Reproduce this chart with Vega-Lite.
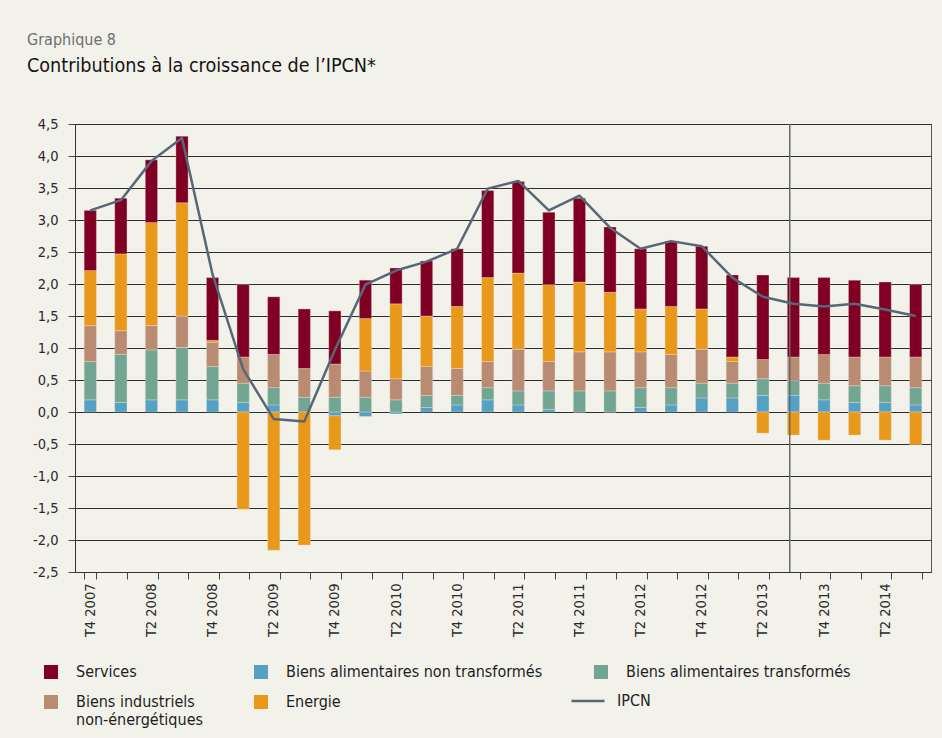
{
  "$schema": "https://vega.github.io/schema/vega-lite/v6.json",
  "width": 856,
  "height": 448,
  "autosize": {"type": "none"},
  "padding": {"left": 75, "top": 124, "right": 11, "bottom": 166},
  "background": "#f2f1ea",
  "title": {
    "text": "Graphique 8",
    "subtitle": "Contributions à la croissance de l’IPCN*",
    "anchor": "start",
    "frame": "group",
    "dx": -48,
    "offset": 40,
    "font": "DejaVu Sans Condensed",
    "fontSize": 16,
    "fontWeight": "normal",
    "color": "#6e7071",
    "subtitleFont": "DejaVu Sans Condensed",
    "subtitleFontSize": 19.6,
    "subtitleColor": "#151515",
    "subtitlePadding": 9
  },
  "datasets": {
    "contributions": [
      {"trimestre": "T4 2007", "serie": "Biens alimentaires non transformés", "valeur": 0.19},
      {"trimestre": "T4 2007", "serie": "Biens alimentaires transformés", "valeur": 0.60},
      {"trimestre": "T4 2007", "serie": "Biens industriels non-énergétiques", "valeur": 0.56},
      {"trimestre": "T4 2007", "serie": "Energie", "valeur": 0.86},
      {"trimestre": "T4 2007", "serie": "Services", "valeur": 0.94},
      {"trimestre": "T1 2008", "serie": "Biens alimentaires non transformés", "valeur": 0.15},
      {"trimestre": "T1 2008", "serie": "Biens alimentaires transformés", "valeur": 0.75},
      {"trimestre": "T1 2008", "serie": "Biens industriels non-énergétiques", "valeur": 0.37},
      {"trimestre": "T1 2008", "serie": "Energie", "valeur": 1.20},
      {"trimestre": "T1 2008", "serie": "Services", "valeur": 0.87},
      {"trimestre": "T2 2008", "serie": "Biens alimentaires non transformés", "valeur": 0.19},
      {"trimestre": "T2 2008", "serie": "Biens alimentaires transformés", "valeur": 0.78},
      {"trimestre": "T2 2008", "serie": "Biens industriels non-énergétiques", "valeur": 0.38},
      {"trimestre": "T2 2008", "serie": "Energie", "valeur": 1.61},
      {"trimestre": "T2 2008", "serie": "Services", "valeur": 0.98},
      {"trimestre": "T3 2008", "serie": "Biens alimentaires non transformés", "valeur": 0.19},
      {"trimestre": "T3 2008", "serie": "Biens alimentaires transformés", "valeur": 0.82},
      {"trimestre": "T3 2008", "serie": "Biens industriels non-énergétiques", "valeur": 0.49},
      {"trimestre": "T3 2008", "serie": "Energie", "valeur": 1.77},
      {"trimestre": "T3 2008", "serie": "Services", "valeur": 1.04},
      {"trimestre": "T4 2008", "serie": "Biens alimentaires non transformés", "valeur": 0.19},
      {"trimestre": "T4 2008", "serie": "Biens alimentaires transformés", "valeur": 0.52},
      {"trimestre": "T4 2008", "serie": "Biens industriels non-énergétiques", "valeur": 0.38},
      {"trimestre": "T4 2008", "serie": "Energie", "valeur": 0.03},
      {"trimestre": "T4 2008", "serie": "Services", "valeur": 0.98},
      {"trimestre": "T1 2009", "serie": "Biens alimentaires non transformés", "valeur": 0.15},
      {"trimestre": "T1 2009", "serie": "Biens alimentaires transformés", "valeur": 0.30},
      {"trimestre": "T1 2009", "serie": "Biens industriels non-énergétiques", "valeur": 0.41},
      {"trimestre": "T1 2009", "serie": "Energie", "valeur": -1.52},
      {"trimestre": "T1 2009", "serie": "Services", "valeur": 1.13},
      {"trimestre": "T2 2009", "serie": "Biens alimentaires non transformés", "valeur": 0.11},
      {"trimestre": "T2 2009", "serie": "Biens alimentaires transformés", "valeur": 0.27},
      {"trimestre": "T2 2009", "serie": "Biens industriels non-énergétiques", "valeur": 0.52},
      {"trimestre": "T2 2009", "serie": "Energie", "valeur": -2.16},
      {"trimestre": "T2 2009", "serie": "Services", "valeur": 0.90},
      {"trimestre": "T3 2009", "serie": "Biens alimentaires non transformés", "valeur": 0.0},
      {"trimestre": "T3 2009", "serie": "Biens alimentaires transformés", "valeur": 0.23},
      {"trimestre": "T3 2009", "serie": "Biens industriels non-énergétiques", "valeur": 0.45},
      {"trimestre": "T3 2009", "serie": "Energie", "valeur": -2.08},
      {"trimestre": "T3 2009", "serie": "Services", "valeur": 0.93},
      {"trimestre": "T4 2009", "serie": "Biens alimentaires non transformés", "valeur": -0.06},
      {"trimestre": "T4 2009", "serie": "Biens alimentaires transformés", "valeur": 0.23},
      {"trimestre": "T4 2009", "serie": "Biens industriels non-énergétiques", "valeur": 0.52},
      {"trimestre": "T4 2009", "serie": "Energie", "valeur": -0.53},
      {"trimestre": "T4 2009", "serie": "Services", "valeur": 0.83},
      {"trimestre": "T1 2010", "serie": "Biens alimentaires non transformés", "valeur": -0.07},
      {"trimestre": "T1 2010", "serie": "Biens alimentaires transformés", "valeur": 0.23},
      {"trimestre": "T1 2010", "serie": "Biens industriels non-énergétiques", "valeur": 0.41},
      {"trimestre": "T1 2010", "serie": "Energie", "valeur": 0.82},
      {"trimestre": "T1 2010", "serie": "Services", "valeur": 0.60},
      {"trimestre": "T2 2010", "serie": "Biens alimentaires non transformés", "valeur": -0.03},
      {"trimestre": "T2 2010", "serie": "Biens alimentaires transformés", "valeur": 0.19},
      {"trimestre": "T2 2010", "serie": "Biens industriels non-énergétiques", "valeur": 0.33},
      {"trimestre": "T2 2010", "serie": "Energie", "valeur": 1.17},
      {"trimestre": "T2 2010", "serie": "Services", "valeur": 0.56},
      {"trimestre": "T3 2010", "serie": "Biens alimentaires non transformés", "valeur": 0.07},
      {"trimestre": "T3 2010", "serie": "Biens alimentaires transformés", "valeur": 0.19},
      {"trimestre": "T3 2010", "serie": "Biens industriels non-énergétiques", "valeur": 0.45},
      {"trimestre": "T3 2010", "serie": "Energie", "valeur": 0.79},
      {"trimestre": "T3 2010", "serie": "Services", "valeur": 0.86},
      {"trimestre": "T4 2010", "serie": "Biens alimentaires non transformés", "valeur": 0.11},
      {"trimestre": "T4 2010", "serie": "Biens alimentaires transformés", "valeur": 0.15},
      {"trimestre": "T4 2010", "serie": "Biens industriels non-énergétiques", "valeur": 0.42},
      {"trimestre": "T4 2010", "serie": "Energie", "valeur": 0.97},
      {"trimestre": "T4 2010", "serie": "Services", "valeur": 0.90},
      {"trimestre": "T1 2011", "serie": "Biens alimentaires non transformés", "valeur": 0.19},
      {"trimestre": "T1 2011", "serie": "Biens alimentaires transformés", "valeur": 0.19},
      {"trimestre": "T1 2011", "serie": "Biens industriels non-énergétiques", "valeur": 0.41},
      {"trimestre": "T1 2011", "serie": "Energie", "valeur": 1.31},
      {"trimestre": "T1 2011", "serie": "Services", "valeur": 1.36},
      {"trimestre": "T2 2011", "serie": "Biens alimentaires non transformés", "valeur": 0.11},
      {"trimestre": "T2 2011", "serie": "Biens alimentaires transformés", "valeur": 0.22},
      {"trimestre": "T2 2011", "serie": "Biens industriels non-énergétiques", "valeur": 0.65},
      {"trimestre": "T2 2011", "serie": "Energie", "valeur": 1.19},
      {"trimestre": "T2 2011", "serie": "Services", "valeur": 1.43},
      {"trimestre": "T3 2011", "serie": "Biens alimentaires non transformés", "valeur": 0.04},
      {"trimestre": "T3 2011", "serie": "Biens alimentaires transformés", "valeur": 0.29},
      {"trimestre": "T3 2011", "serie": "Biens industriels non-énergétiques", "valeur": 0.46},
      {"trimestre": "T3 2011", "serie": "Energie", "valeur": 1.20},
      {"trimestre": "T3 2011", "serie": "Services", "valeur": 1.13},
      {"trimestre": "T4 2011", "serie": "Biens alimentaires non transformés", "valeur": 0.0},
      {"trimestre": "T4 2011", "serie": "Biens alimentaires transformés", "valeur": 0.33},
      {"trimestre": "T4 2011", "serie": "Biens industriels non-énergétiques", "valeur": 0.61},
      {"trimestre": "T4 2011", "serie": "Energie", "valeur": 1.09},
      {"trimestre": "T4 2011", "serie": "Services", "valeur": 1.31},
      {"trimestre": "T1 2012", "serie": "Biens alimentaires non transformés", "valeur": 0.0},
      {"trimestre": "T1 2012", "serie": "Biens alimentaires transformés", "valeur": 0.33},
      {"trimestre": "T1 2012", "serie": "Biens industriels non-énergétiques", "valeur": 0.61},
      {"trimestre": "T1 2012", "serie": "Energie", "valeur": 0.93},
      {"trimestre": "T1 2012", "serie": "Services", "valeur": 1.02},
      {"trimestre": "T2 2012", "serie": "Biens alimentaires non transformés", "valeur": 0.07},
      {"trimestre": "T2 2012", "serie": "Biens alimentaires transformés", "valeur": 0.31},
      {"trimestre": "T2 2012", "serie": "Biens industriels non-énergétiques", "valeur": 0.56},
      {"trimestre": "T2 2012", "serie": "Energie", "valeur": 0.67},
      {"trimestre": "T2 2012", "serie": "Services", "valeur": 0.94},
      {"trimestre": "T3 2012", "serie": "Biens alimentaires non transformés", "valeur": 0.11},
      {"trimestre": "T3 2012", "serie": "Biens alimentaires transformés", "valeur": 0.27},
      {"trimestre": "T3 2012", "serie": "Biens industriels non-énergétiques", "valeur": 0.52},
      {"trimestre": "T3 2012", "serie": "Energie", "valeur": 0.75},
      {"trimestre": "T3 2012", "serie": "Services", "valeur": 1.02},
      {"trimestre": "T4 2012", "serie": "Biens alimentaires non transformés", "valeur": 0.22},
      {"trimestre": "T4 2012", "serie": "Biens alimentaires transformés", "valeur": 0.23},
      {"trimestre": "T4 2012", "serie": "Biens industriels non-énergétiques", "valeur": 0.53},
      {"trimestre": "T4 2012", "serie": "Energie", "valeur": 0.63},
      {"trimestre": "T4 2012", "serie": "Services", "valeur": 0.98},
      {"trimestre": "T1 2013", "serie": "Biens alimentaires non transformés", "valeur": 0.22},
      {"trimestre": "T1 2013", "serie": "Biens alimentaires transformés", "valeur": 0.23},
      {"trimestre": "T1 2013", "serie": "Biens industriels non-énergétiques", "valeur": 0.34},
      {"trimestre": "T1 2013", "serie": "Energie", "valeur": 0.07},
      {"trimestre": "T1 2013", "serie": "Services", "valeur": 1.28},
      {"trimestre": "T2 2013", "serie": "Biens alimentaires non transformés", "valeur": 0.26},
      {"trimestre": "T2 2013", "serie": "Biens alimentaires transformés", "valeur": 0.26},
      {"trimestre": "T2 2013", "serie": "Biens industriels non-énergétiques", "valeur": 0.30},
      {"trimestre": "T2 2013", "serie": "Energie", "valeur": -0.33},
      {"trimestre": "T2 2013", "serie": "Services", "valeur": 1.32},
      {"trimestre": "T3 2013", "serie": "Biens alimentaires non transformés", "valeur": 0.26},
      {"trimestre": "T3 2013", "serie": "Biens alimentaires transformés", "valeur": 0.23},
      {"trimestre": "T3 2013", "serie": "Biens industriels non-énergétiques", "valeur": 0.37},
      {"trimestre": "T3 2013", "serie": "Energie", "valeur": -0.36},
      {"trimestre": "T3 2013", "serie": "Services", "valeur": 1.24},
      {"trimestre": "T4 2013", "serie": "Biens alimentaires non transformés", "valeur": 0.19},
      {"trimestre": "T4 2013", "serie": "Biens alimentaires transformés", "valeur": 0.26},
      {"trimestre": "T4 2013", "serie": "Biens industriels non-énergétiques", "valeur": 0.45},
      {"trimestre": "T4 2013", "serie": "Energie", "valeur": -0.44},
      {"trimestre": "T4 2013", "serie": "Services", "valeur": 1.20},
      {"trimestre": "T1 2014", "serie": "Biens alimentaires non transformés", "valeur": 0.15},
      {"trimestre": "T1 2014", "serie": "Biens alimentaires transformés", "valeur": 0.26},
      {"trimestre": "T1 2014", "serie": "Biens industriels non-énergétiques", "valeur": 0.45},
      {"trimestre": "T1 2014", "serie": "Energie", "valeur": -0.36},
      {"trimestre": "T1 2014", "serie": "Services", "valeur": 1.20},
      {"trimestre": "T2 2014", "serie": "Biens alimentaires non transformés", "valeur": 0.15},
      {"trimestre": "T2 2014", "serie": "Biens alimentaires transformés", "valeur": 0.26},
      {"trimestre": "T2 2014", "serie": "Biens industriels non-énergétiques", "valeur": 0.45},
      {"trimestre": "T2 2014", "serie": "Energie", "valeur": -0.44},
      {"trimestre": "T2 2014", "serie": "Services", "valeur": 1.17},
      {"trimestre": "T3 2014", "serie": "Biens alimentaires non transformés", "valeur": 0.11},
      {"trimestre": "T3 2014", "serie": "Biens alimentaires transformés", "valeur": 0.27},
      {"trimestre": "T3 2014", "serie": "Biens industriels non-énergétiques", "valeur": 0.48},
      {"trimestre": "T3 2014", "serie": "Energie", "valeur": -0.51},
      {"trimestre": "T3 2014", "serie": "Services", "valeur": 1.13}
    ],
    "ipcn": [
      {"trimestre": "T4 2007", "valeur": 3.15},
      {"trimestre": "T1 2008", "valeur": 3.31},
      {"trimestre": "T2 2008", "valeur": 3.92},
      {"trimestre": "T3 2008", "valeur": 4.28},
      {"trimestre": "T4 2008", "valeur": 2.15},
      {"trimestre": "T1 2009", "valeur": 0.67},
      {"trimestre": "T2 2009", "valeur": -0.11},
      {"trimestre": "T3 2009", "valeur": -0.15},
      {"trimestre": "T4 2009", "valeur": 0.97},
      {"trimestre": "T1 2010", "valeur": 1.99},
      {"trimestre": "T2 2010", "valeur": 2.21},
      {"trimestre": "T3 2010", "valeur": 2.35},
      {"trimestre": "T4 2010", "valeur": 2.55},
      {"trimestre": "T1 2011", "valeur": 3.49},
      {"trimestre": "T2 2011", "valeur": 3.61},
      {"trimestre": "T3 2011", "valeur": 3.15},
      {"trimestre": "T4 2011", "valeur": 3.38},
      {"trimestre": "T1 2012", "valeur": 2.88},
      {"trimestre": "T2 2012", "valeur": 2.55},
      {"trimestre": "T3 2012", "valeur": 2.67},
      {"trimestre": "T4 2012", "valeur": 2.59},
      {"trimestre": "T1 2013", "valeur": 2.10},
      {"trimestre": "T2 2013", "valeur": 1.80},
      {"trimestre": "T3 2013", "valeur": 1.69},
      {"trimestre": "T4 2013", "valeur": 1.65},
      {"trimestre": "T1 2014", "valeur": 1.69},
      {"trimestre": "T2 2014", "valeur": 1.60},
      {"trimestre": "T3 2014", "valeur": 1.50}
    ],
    "separation": [{"trimestre": "T3 2013"}]
  },
  "encoding": {
    "x": {
      "field": "trimestre",
      "type": "ordinal",
      "sort": null,
      "scale": {"paddingInner": 0.6, "paddingOuter": 0.3},
      "axis": {
        "title": null,
        "labelAngle": -90,
        "tickBand": "extent",
        "tickSize": 7,
        "tickColor": "#444",
        "domainColor": "#333",
        "labelPadding": 4,
        "labelFontSize": 14.5,
        "labelExpr": "test(/^T[24]/, datum.value) ? datum.value : ''"
      }
    },
    "y": {
      "field": "valeur",
      "type": "quantitative",
      "scale": {"domain": [-2.5, 4.5], "nice": false, "zero": false},
      "axis": {
        "title": null,
        "values": [-2.5, -2, -1.5, -1, -0.5, 0, 0.5, 1, 1.5, 2, 2.5, 3, 3.5, 4, 4.5],
        "labelOverlap": false,
        "labelExpr": "replace(replace(format(datum.value, '.1f'), '.', ','), '\u2212', '-')",
        "grid": true,
        "gridColor": "#2d2d2d",
        "gridWidth": 1,
        "tickSize": 7,
        "tickColor": "#444",
        "domainColor": "#333",
        "labelPadding": 10,
        "labelFontSize": 14.5
      }
    }
  },
  "layer": [
    {
      "data": {"name": "contributions"},
      "transform": [
        {"calculate": "indexof(['Biens alimentaires non transformés','Biens alimentaires transformés','Biens industriels non-énergétiques','Energie','Services'], datum.serie)", "as": "rang"}
      ],
      "mark": {"type": "bar", "stroke": "#f2e6dc", "strokeWidth": 0.4, "strokeOpacity": 0.8},
      "encoding": {
        "y": {"field": "valeur", "type": "quantitative", "stack": "zero"},
        "color": {
          "field": "serie",
          "type": "nominal",
          "scale": {
            "domain": ["Services", "Biens alimentaires non transformés", "Biens alimentaires transformés", "Biens industriels non-énergétiques", "Energie"],
            "range": ["#800023", "#55a0c3", "#72a693", "#b98b73", "#e8991c"]
          },
          "legend": {
            "title": null,
            "orient": "none",
            "legendX": -32,
            "legendY": 540,
            "direction": "horizontal",
            "columns": 3,
            "columnPadding": 50,
            "rowPadding": 14,
            "padding": 0,
            "symbolSize": 196,
            "symbolType": "square",
            "symbolStrokeWidth": 0,
            "labelOffset": 17,
            "labelFont": "DejaVu Sans Condensed",
            "labelFontSize": 16,
            "labelColor": "#1e1e1e",
            "labelLimit": 400,
            "labelExpr": "datum.label == 'Biens industriels non-énergétiques' ? ['Biens industriels', 'non-énergétiques'] : datum.label"
          }
        },
        "order": {"field": "rang", "type": "quantitative"}
      }
    },
    {
      "data": {"name": "separation"},
      "mark": {"type": "rule", "color": "#6a6a6a", "strokeWidth": 1.5},
      "encoding": {
        "x": {"field": "trimestre", "type": "ordinal", "sort": null, "bandPosition": 0.2},
        "y": null
      }
    },
    {
      "data": {"name": "ipcn"},
      "mark": {"type": "line", "strokeWidth": 2.5, "strokeJoin": "round"},
      "encoding": {
        "stroke": {
          "datum": "IPCN",
          "type": "nominal",
          "scale": {"domain": ["IPCN"], "range": ["#566878"]},
          "legend": {
            "title": null,
            "orient": "none",
            "legendX": 495,
            "legendY": 559,
            "padding": 0,
            "symbolType": "stroke",
            "symbolSize": 1089,
            "symbolStrokeWidth": 2.5,
            "labelOffset": 11,
            "labelFont": "DejaVu Sans Condensed",
            "labelFontSize": 16,
            "labelColor": "#1e1e1e"
          }
        }
      }
    }
  ],
  "config": {
    "view": {"stroke": "#555", "strokeWidth": 1},
    "axis": {
      "labelFont": "DejaVu Sans Condensed",
      "labelFontSize": 14,
      "labelColor": "#2a2a2a"
    }
  }
}
